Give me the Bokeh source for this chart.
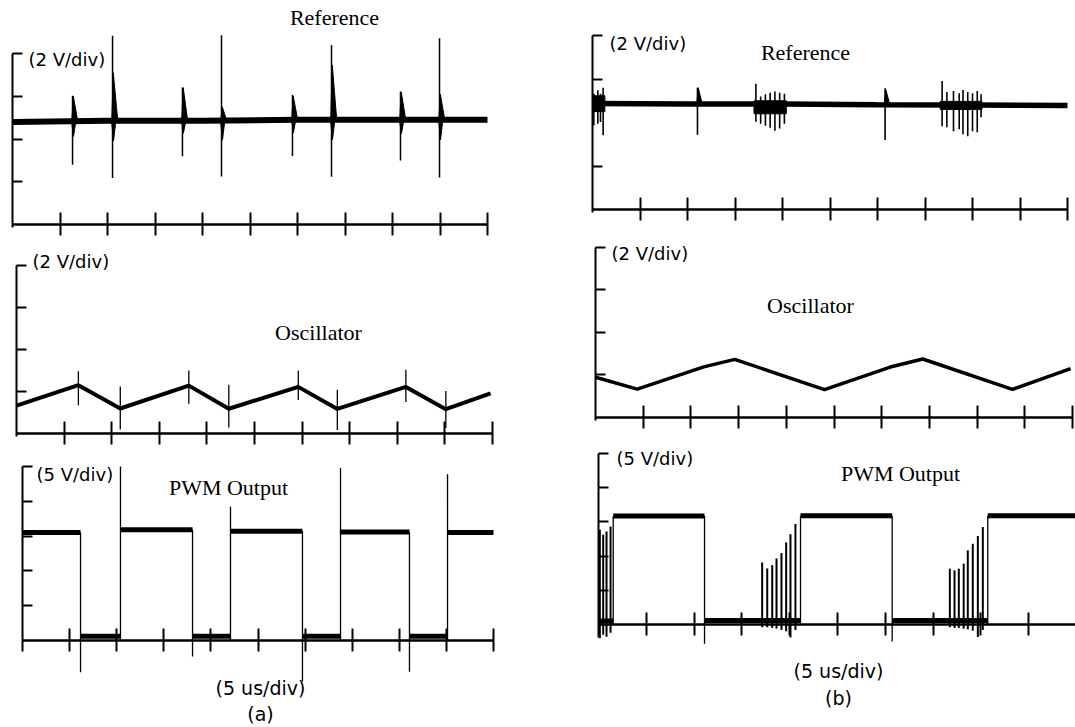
import numpy as np
from bokeh.plotting import figure
from bokeh.layouts import row, column
from bokeh.models import LinearAxis, FixedTicker, Range1d
from bokeh.embed import file_html
from bokeh.resources import INLINE
from bokeh.core.properties import value

# ------------------------------------------------------------------ data
T_FULL = 50.0                      # 10 div x 5 us/div
T_TICKS = [5, 10, 15, 20, 25, 30, 35, 40, 45, 50]

# (a) Reference  (2 V/div)
REF_A_T = [0, 10, 20, 30, 40, 50]
REF_A_V = [4.8, 4.85, 4.85, 4.9, 4.9, 4.9]
REF_A_SPIKE_T = [6.32, 10.53, 17.89, 22.0, 29.47, 33.58, 40.84, 44.95]
REF_A_SPIKE_TOP = [6.02, 8.83, 6.41, 8.85, 6.06, 8.40, 6.22, 8.71]
REF_A_SPIKE_BOT = [2.79, 2.18, 3.19, 2.25, 3.20, 2.23, 2.99, 2.20]
REF_A_SPIKE_BODY = [6.0, 7.1, 6.4, 5.5, 6.0, 7.45, 6.2, 6.1]

# (a) Oscillator (2 V/div)
OSC_A_T = [0, 6.5, 10.9, 18.1, 22.3, 29.6, 33.7, 40.9, 45.1, 49.8]
OSC_A_V = [1.33, 2.30, 1.19, 2.28, 1.18, 2.22, 1.17, 2.22, 1.16, 1.91]
OSC_A_SPIKE_T = [6.5, 10.9, 18.1, 22.3, 29.6, 33.7, 40.9, 45.1]
OSC_A_SPIKE_TOP = [2.96, 2.24, 3.0, 2.32, 2.99, 2.08, 3.03, 2.02]
OSC_A_SPIKE_BOT = [1.34, 0.19, 1.42, 0.28, 1.6, 0.17, 1.5, 0.26]

# (a) PWM Output (5 V/div)   edges: fall, rise, fall, rise ...
PWM_A_EDGE_T = [6.16, 10.4, 18.05, 22.08, 29.72, 33.76, 41.08, 45.12]
PWM_A_HIGH = [15.5, 15.9, 15.7, 15.6, 15.5]
PWM_A_LOW = [0.6, 0.6, 0.6, 0.6]
PWM_A_FALL_MIN = [-4.55, -2.3, -5.9, -4.5]
PWM_A_RISE_MAX = [25.0, 19.2, 24.8, 23.9]

# (b) Reference (2 V/div)
REF_B_T = [0, 10, 20, 30, 40, 50]
REF_B_V = [4.87, 4.85, 4.85, 4.82, 4.8, 4.78]
REF_B_SPIKE_T = [0.14, 0.56, 0.84, 1.12, 11.05,
                 17.2, 17.7, 18.2, 18.7, 19.2, 19.7, 20.2, 30.8,
                 36.8, 37.3, 38.0, 38.6, 39.0, 39.5, 40.0, 40.5, 40.9]
REF_B_SPIKE_TOP = [5.32, 5.48, 5.32, 5.6, 5.6,
                   5.78, 5.2, 5.3, 5.37, 5.42, 5.37, 5.32, 5.58,
                   5.91, 5.4, 5.45, 5.35, 5.5, 5.4, 5.35, 5.45, 5.3]
REF_B_SPIKE_BOT = [3.87, 3.94, 4.02, 3.41, 3.44,
                   4.04, 3.94, 3.85, 3.76, 3.62, 3.72, 3.94, 3.19,
                   3.83, 3.78, 3.6, 3.69, 3.46, 3.37, 3.6, 3.55, 4.24]
REF_B_BURST_T0 = [0.0, 17.0, 36.6]
REF_B_BURST_T1 = [1.3, 20.4, 41.0]
REF_B_BURST_HI = [5.23, 5.0, 4.97]
REF_B_BURST_LO = [4.5, 4.4, 4.6]
REF_B_WEDGE_T = [11.05, 30.8]
REF_B_WEDGE_TOP = [5.6, 5.5]

# (b) Oscillator (2 V/div)
OSC_B_T = [0, 4.37, 11.35, 14.6, 24.0, 30.9, 34.3, 43.7, 49.8]
OSC_B_V = [1.87, 1.31, 2.36, 2.71, 1.29, 2.35, 2.73, 1.30, 2.28]

# (b) PWM Output (5 V/div)   edges: rise, fall, rise, fall, rise
PWM_B_EDGE_T = [1.54, 11.09, 21.13, 30.72, 40.72]
PWM_B_HIGH = [15.86, 15.9, 15.9]
PWM_B_LOW = [0.5, 0.6, 0.6]
PWM_B_FALL_MIN = [-2.8, -2.5]
PWM_B_BURST_T = [0.14, 0.49, 0.84, 1.26,
                 17.12, 17.65, 18.17, 18.62, 19.14, 19.63, 20.08, 20.6,
                 36.75, 37.24, 37.69, 38.2, 38.63, 39.15, 39.68, 40.2]
PWM_B_BURST_TOP = [13.86, 13.13, 13.6, 14.34,
                   9.08, 8.2, 8.68, 9.66, 10.44, 12.0, 13.2, 14.7,
                   8.16, 7.91, 8.16, 8.89, 10.83, 11.8, 12.94, 14.25]
PWM_B_BURST_BOT = [-2.0, -1.5, -1.8, -1.2,
                   -0.4, -0.4, -0.5, -0.6, -0.8, -1.0, -1.9, -0.8,
                   -0.4, -0.5, -0.5, -0.6, -0.7, -0.9, -1.83, -0.8]

# ------------------------------------------------------------------ layout (page px)
GEOM = {
    "a1": dict(X0=0, Y0=0, W=540, H=248, Xa=12, Xe=487, Yb=224, Yt=53, vtop=8),
    "a2": dict(X0=0, Y0=248, W=540, H=210, Xa=16, Xe=492, Yb=433, Yt=265, vtop=8),
    "a3": dict(X0=0, Y0=458, W=540, H=269, Xa=22, Xe=493, Yb=640, Yt=466, vtop=25),
    "b1": dict(X0=540, Y0=0, W=535, H=240, Xa=592, Xe=1067, Yb=209, Yt=35, vtop=8),
    "b2": dict(X0=540, Y0=240, W=535, H=205, Xa=595, Xe=1072, Yb=416.5, Yt=246.5, vtop=8),
    "b3": dict(X0=540, Y0=445, W=535, H=282, Xa=598, Xe=1076, Yb=624, Yt=453, vtop=25),
}

SANS = value("DejaVu Sans")
SERIF = value("Liberation Serif")
INK = "#000000"


def page_to_data(g, px, py):
    pxt = (g["Xe"] - g["Xa"]) / T_FULL
    pxv = (g["Yb"] - g["Yt"]) / g["vtop"]
    return (px - g["Xa"]) / pxt, (g["Yb"] - py) / pxv


def make_panel(key, vticks, ylo):
    g = GEOM[key]
    x0, y1 = page_to_data(g, g["X0"], g["Y0"])
    x1, y0 = page_to_data(g, g["X0"] + g["W"], g["Y0"] + g["H"])
    p = figure(width=g["W"], height=g["H"], x_range=Range1d(x0, x1), y_range=Range1d(y0, y1),
               x_axis_type=None, y_axis_type=None, toolbar_location=None,
               output_backend="svg", min_border=0)
    p.outline_line_color = None
    p.background_fill_color = "white"
    p.border_fill_color = "white"

    xa = LinearAxis(fixed_location=0, bounds=(0, T_FULL), ticker=FixedTicker(ticks=T_TICKS))
    xa.major_tick_in = 12
    xa.major_tick_out = 11
    xa.minor_tick_in = 0
    xa.minor_tick_out = 0
    xa.axis_line_width = 2.5
    xa.major_tick_line_width = 2
    xa.axis_line_color = INK
    xa.major_tick_line_color = INK
    xa.major_label_text_font_size = "0px"
    xa.major_label_overrides = {t: "" for t in T_TICKS}
    p.add_layout(xa, "below")

    ya = LinearAxis(fixed_location=0, bounds=(ylo, g["vtop"]), ticker=FixedTicker(ticks=vticks))
    ya.major_tick_in = 10
    ya.major_tick_out = 0
    ya.minor_tick_in = 0
    ya.minor_tick_out = 0
    ya.axis_line_width = 2
    ya.major_tick_line_width = 2
    ya.axis_line_color = INK
    ya.major_tick_line_color = INK
    ya.major_label_text_font_size = "0px"
    ya.major_label_overrides = {t: "" for t in vticks}
    p.add_layout(ya, "left")
    return p, g


def add_label(p, g, txt, px, py, font, size, align="left"):
    x, y = page_to_data(g, px, py)
    p.text(x=[x], y=[y], text=[txt], text_font=font, text_font_size=value(size),
           text_align=align, text_baseline="middle", text_color=INK)


def pwm_segments(edges, first_high, highs, lows):
    bounds = [0.0] + list(edges) + [T_FULL]
    x0, x1, lv = [], [], []
    hi_i, lo_i = 0, 0
    is_high = first_high
    for i in range(len(bounds) - 1):
        x0.append(bounds[i]); x1.append(bounds[i + 1])
        if is_high:
            lv.append(highs[hi_i]); hi_i += 1
        else:
            lv.append(lows[lo_i]); lo_i += 1
        is_high = not is_high
    return x0, x1, lv


# ------------------------------------------------------------------ (a) Reference
a1, g = make_panel("a1", [2, 4, 6, 8], -0.15)
a1.line(REF_A_T, REF_A_V, line_width=6, line_color=INK)
a1.segment(x0=REF_A_SPIKE_T, y0=REF_A_SPIKE_BOT, x1=REF_A_SPIKE_T, y1=REF_A_SPIKE_TOP,
           line_width=1.5, line_color=INK)
base_a = np.interp(REF_A_SPIKE_T, REF_A_T, REF_A_V)
a1.patches(xs=[[t - 0.08, t + 0.08, t + 0.55] for t in REF_A_SPIKE_T],
           ys=[[b, top, b] for b, top in zip(base_a, REF_A_SPIKE_BODY)],
           fill_color=INK, line_color=INK, line_width=1)
a1.patches(xs=[[t - 0.1, t + 0.1, t + 0.35] for t in REF_A_SPIKE_T],
           ys=[[b, b - 0.35 * (b - bot), b] for b, bot in zip(base_a, REF_A_SPIKE_BOT)],
           fill_color=INK, line_color=INK, line_width=1)
add_label(a1, g, "Reference", 334, 17, SERIF, "22px", "center")
add_label(a1, g, "(2 V/div)", 28, 59, SANS, "18px")

# ------------------------------------------------------------------ (a) Oscillator
a2, g = make_panel("a2", [2, 4, 6, 8], -0.15)
a2.line(OSC_A_T, OSC_A_V, line_width=4, line_color=INK)
a2.segment(x0=OSC_A_SPIKE_T, y0=OSC_A_SPIKE_BOT, x1=OSC_A_SPIKE_T, y1=OSC_A_SPIKE_TOP,
           line_width=1.3, line_color=INK)
add_label(a2, g, "(2 V/div)", 32, 261, SANS, "18px")
add_label(a2, g, "Oscillator", 318, 332, SERIF, "22px", "center")

# ------------------------------------------------------------------ (a) PWM Output
a3, g = make_panel("a3", [5, 10, 15, 20, 25], -1.6)
sx0, sx1, slv = pwm_segments(PWM_A_EDGE_T, True, PWM_A_HIGH, PWM_A_LOW)
a3.segment(x0=sx0, y0=slv, x1=sx1, y1=slv, line_width=5, line_color=INK)
ex, ey0, ey1 = [], [], []
for j, t in enumerate(PWM_A_EDGE_T):
    ex.append(t)
    if j % 2 == 0:
        ey0.append(PWM_A_HIGH[j // 2]); ey1.append(PWM_A_FALL_MIN[j // 2])
    else:
        ey0.append(PWM_A_LOW[j // 2] - 0.6); ey1.append(PWM_A_RISE_MAX[j // 2])
a3.segment(x0=ex, y0=ey0, x1=ex, y1=ey1, line_width=1.3, line_color=INK)
add_label(a3, g, "(5 V/div)", 36, 474, SANS, "18px")
add_label(a3, g, "PWM Output", 228, 487, SERIF, "22px", "center")
add_label(a3, g, "(5 us/div)", 260, 687, SANS, "19px", "center")
add_label(a3, g, "(a)", 260, 713, SANS, "19px", "center")

# ------------------------------------------------------------------ (b) Reference
b1, g = make_panel("b1", [2, 6, 8], -0.15)
b1.line(REF_B_T, REF_B_V, line_width=5.5, line_color=INK)
b1.quad(left=REF_B_BURST_T0, right=REF_B_BURST_T1, top=REF_B_BURST_HI, bottom=REF_B_BURST_LO,
        fill_color=INK, line_color=INK)
b1.segment(x0=REF_B_SPIKE_T, y0=REF_B_SPIKE_BOT, x1=REF_B_SPIKE_T, y1=REF_B_SPIKE_TOP,
           line_width=1.6, line_color=INK)
base_b = np.interp(REF_B_WEDGE_T, REF_B_T, REF_B_V)
b1.patches(xs=[[t - 0.08, t + 0.08, t + 0.5] for t in REF_B_WEDGE_T],
           ys=[[b, top, b] for b, top in zip(base_b, REF_B_WEDGE_TOP)],
           fill_color=INK, line_color=INK, line_width=1)
add_label(b1, g, "(2 V/div)", 609, 43, SANS, "18px")
add_label(b1, g, "Reference", 805, 52, SERIF, "22px", "center")

# ------------------------------------------------------------------ (b) Oscillator
b2, g = make_panel("b2", [2, 4, 6, 8], -0.15)
b2.line(OSC_B_T, OSC_B_V, line_width=3.5, line_color=INK)
add_label(b2, g, "(2 V/div)", 611, 253, SANS, "18px")
add_label(b2, g, "Oscillator", 810, 305, SERIF, "22px", "center")

# ------------------------------------------------------------------ (b) PWM Output
b3, g = make_panel("b3", [5, 10, 15, 20, 25], -1.9)
sx0, sx1, slv = pwm_segments(PWM_B_EDGE_T, False, PWM_B_HIGH, PWM_B_LOW)
b3.segment(x0=sx0, y0=slv, x1=sx1, y1=slv, line_width=5, line_color=INK)
ex, ey0, ey1 = [], [], []
for j, t in enumerate(PWM_B_EDGE_T):
    ex.append(t)
    if j % 2 == 0:
        ey0.append(PWM_B_LOW[j // 2] - 0.6); ey1.append(PWM_B_HIGH[j // 2])
    else:
        ey0.append(PWM_B_HIGH[j // 2]); ey1.append(PWM_B_FALL_MIN[j // 2])
b3.segment(x0=ex, y0=ey0, x1=ex, y1=ey1, line_width=1.3, line_color=INK)
b3.segment(x0=PWM_B_BURST_T, y0=PWM_B_BURST_BOT, x1=PWM_B_BURST_T, y1=PWM_B_BURST_TOP,
           line_width=2, line_color=INK)
add_label(b3, g, "(5 V/div)", 616, 458, SANS, "18px")
add_label(b3, g, "PWM Output", 900, 473, SERIF, "22px", "center")
add_label(b3, g, "(5 us/div)", 838, 670, SANS, "19px", "center")
add_label(b3, g, "(b)", 838, 697, SANS, "19px", "center")

layout = row(column(a1, a2, a3), column(b1, b2, b3))
open("out.html", "w").write(file_html(layout, INLINE))
